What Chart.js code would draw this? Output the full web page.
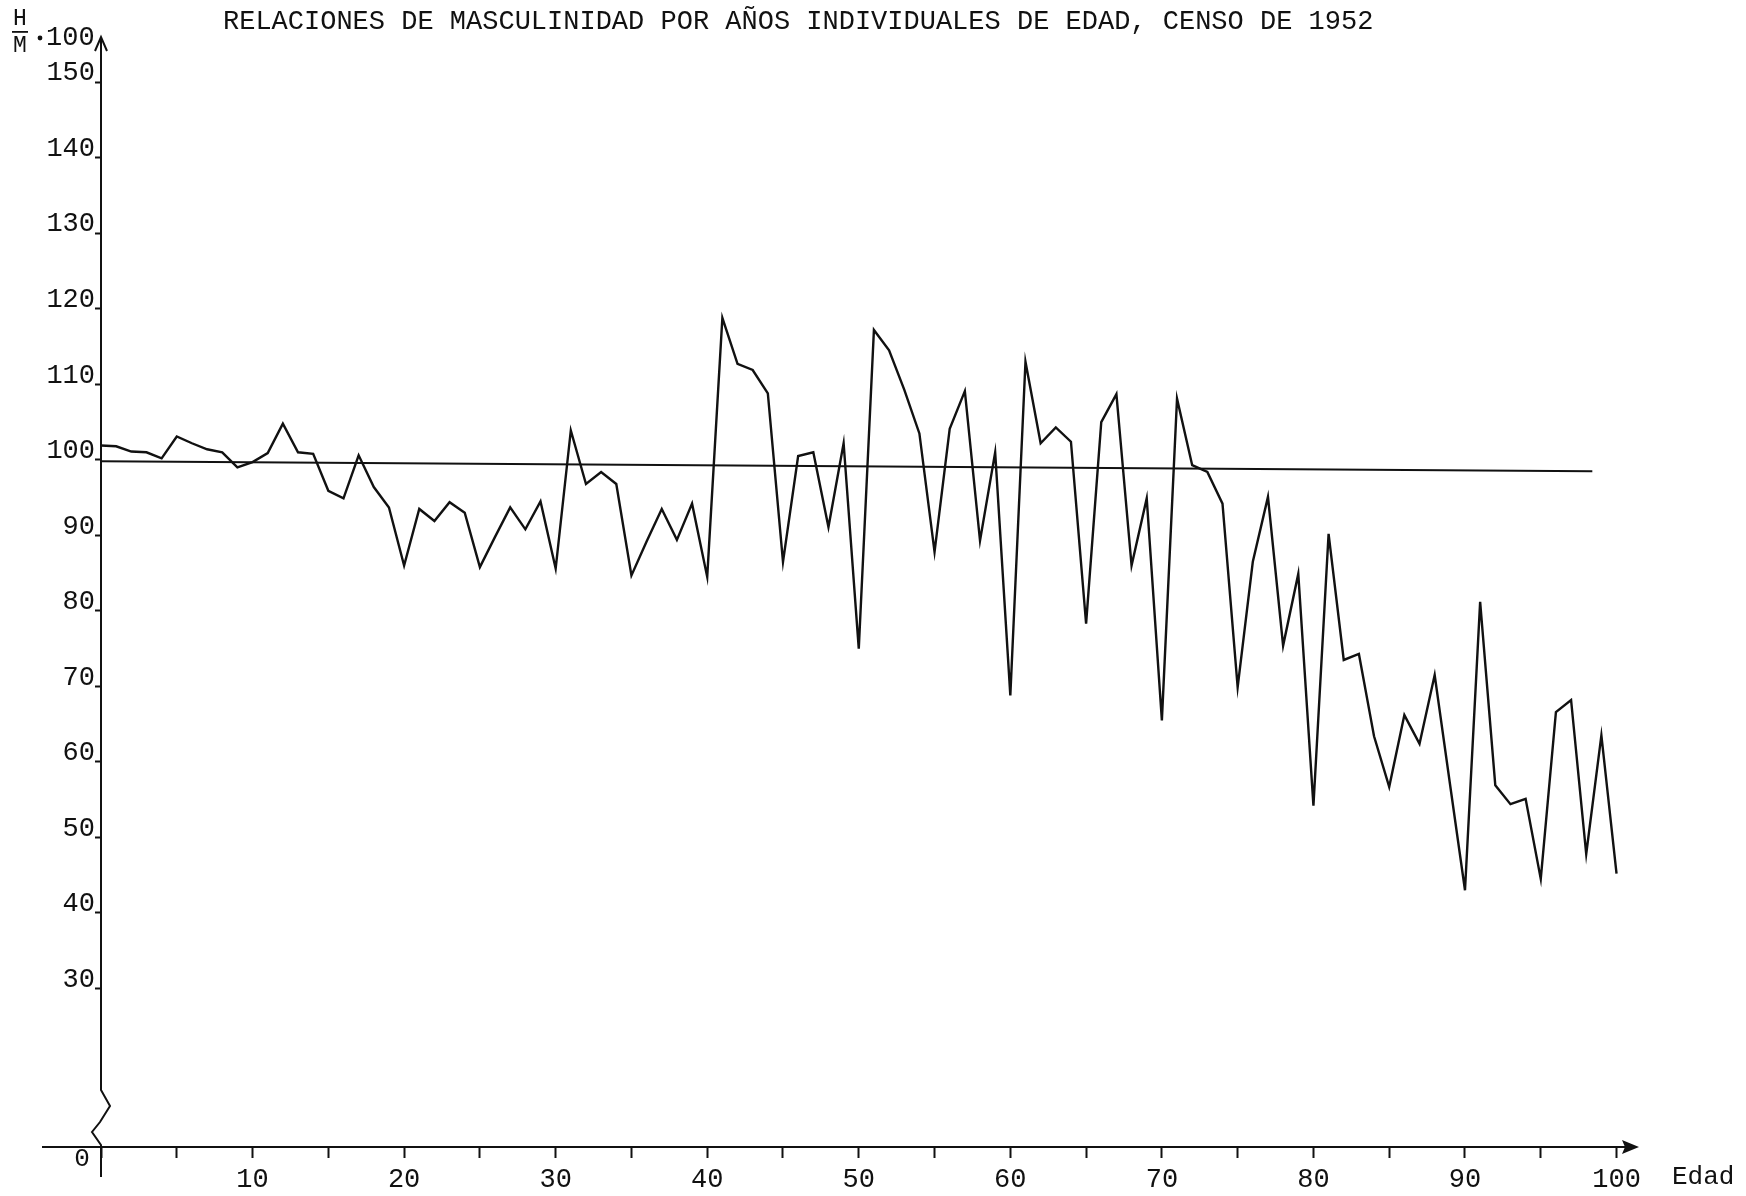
<!DOCTYPE html>
<html>
<head>
<meta charset="utf-8">
<script src="https://cdn.jsdelivr.net/npm/chart.js@4.4.1/dist/chart.umd.min.js"></script>
<style>
  body { margin: 0; background: #fff; }
  canvas { display: block; }
</style>
</head>
<body>
<canvas id="masc" width="1746" height="1196"></canvas>
<script>

var edades = [];
for (var i = 0; i <= 100; i++) edades.push(i);

// H/M * 100
var relacion = [
    101.9, 101.8, 101.1, 101.0, 100.2, 103.1, 102.2, 101.4, 101.0, 99.0,
    99.7, 100.9, 104.8, 101.0, 100.8, 95.9, 94.9, 100.6, 96.4, 93.7,
    86.0, 93.5, 91.9, 94.4, 93.0, 85.8, 89.8, 93.7, 90.8, 94.5,
    85.6, 103.9, 96.8, 98.4, 96.8, 84.7, 89.2, 93.5, 89.4, 94.2,
    84.5, 118.8, 112.7, 111.9, 108.8, 86.5, 100.5, 101.0, 91.1, 102.2,
    75.0, 117.2, 114.5, 109.3, 103.5, 87.8, 104.1, 109.1, 89.3, 101.0,
    68.8, 113.0, 102.2, 104.3, 102.4, 78.3, 105.0, 108.7, 86.0, 94.9,
    65.5, 108.1, 99.3, 98.4, 94.2, 69.9, 86.5, 95.1, 75.4, 84.9,
    54.2, 90.2, 73.5, 74.3, 63.4, 56.7, 66.2, 62.4, 71.5, 57.2,
    43.0, 81.2, 56.9, 54.4, 55.1, 44.5, 66.6, 68.2, 47.8, 63.5,
    45.2
];

// linea de referencia (100), ligeramente inclinada en el original
var refEdades = [0, 98.4];
var refValores = [99.8, 98.5];

var yTicks = [30, 40, 50, 60, 70, 80, 90, 100, 110, 120, 130, 140, 150];
var xTicks = [0, 5, 10, 15, 20, 25, 30, 35, 40, 45, 50, 55, 60, 65, 70, 75, 80, 85, 90, 95, 100];

var titulo = "RELACIONES DE MASCULINIDAD POR AÑOS INDIVIDUALES DE EDAD, CENSO DE 1952";
var mono = "'Liberation Mono', 'DejaVu Sans Mono', monospace";
var tinta = "#111";

var ejes = {
    id: "ejes",
    afterDraw: function (chart) {
        var ctx = chart.ctx;
        var xs = chart.scales.x;
        var x0 = xs.getPixelForValue(0);
        var yb = chart.chartArea.bottom;
        var yt = chart.chartArea.top;
        var xr = chart.chartArea.right;

        ctx.save();
        ctx.strokeStyle = tinta;
        ctx.fillStyle = tinta;
        ctx.lineWidth = 2;

        // eje vertical con corte
        ctx.beginPath();
        ctx.moveTo(x0, yt + 2);
        ctx.lineTo(x0, yb - 57);
        ctx.lineTo(x0 + 9, yb - 41);
        ctx.lineTo(x0 - 1, yb - 25);
        ctx.lineTo(x0 - 9, yb - 15);
        ctx.lineTo(x0, yb - 2);
        ctx.lineTo(x0, yb + 30);
        ctx.stroke();
        // flecha arriba
        ctx.beginPath();
        ctx.moveTo(x0 - 6, yt + 14);
        ctx.lineTo(x0, yt);
        ctx.lineTo(x0 + 6, yt + 14);
        ctx.stroke();

        // eje horizontal
        ctx.beginPath();
        ctx.moveTo(42, yb);
        ctx.lineTo(xr - 4, yb);
        ctx.stroke();
        ctx.beginPath();
        ctx.moveTo(xr + 2, yb);
        ctx.lineTo(xr - 15, yb - 7);
        ctx.lineTo(xr - 12, yb);
        ctx.lineTo(xr - 15, yb + 7);
        ctx.closePath();
        ctx.fill();

        // textos
        ctx.textBaseline = "middle";
        ctx.font = "27px " + mono;
        ctx.textAlign = "left";
        ctx.fillText(titulo, 223, 22);
        ctx.font = "26px " + mono;
        ctx.fillText("Edad", 1672, yb + 30);
        ctx.textAlign = "center";
        ctx.fillText("0", 82, yb + 12);

        ctx.font = "23px " + mono;
        ctx.fillText("H", 20, 19);
        ctx.fillText("M", 20, 46);
        ctx.fillRect(12, 31, 16, 1.8);
        ctx.beginPath();
        ctx.arc(40, 38, 2.4, 0, Math.PI * 2);
        ctx.fill();
        ctx.textAlign = "left";
        ctx.font = "27px " + mono;
        ctx.fillText("100", 46, 38);
        ctx.restore();
    }
};

new Chart("masc", {
    type: "line",
    data: {
        datasets: [{
            data: edades.map(function (e, i) { return { x: e, y: relacion[i] }; }),
            borderColor: tinta,
            borderWidth: 2.4,
            pointRadius: 0,
            tension: 0,
            fill: false
        }, {
            data: refEdades.map(function (e, i) { return { x: e, y: refValores[i] }; }),
            borderColor: tinta,
            borderWidth: 2,
            pointRadius: 0,
            tension: 0,
            fill: false
        }]
    },
    options: {
        responsive: false,
        animation: false,
        devicePixelRatio: 1,
        layout: { padding: { left: 0, right: 109, top: 37, bottom: 0 } },
        plugins: {
            legend: { display: false },
            title: { display: false },
            tooltip: { enabled: false }
        },
        scales: {
            x: {
                type: "linear",
                min: 0,
                max: 101.35,
                afterBuildTicks: function (s) { s.ticks = xTicks.map(function (v) { return { value: v }; }); },
                afterFit: function (s) { s.height = 49; },
                border: { display: false },
                grid: { drawOnChartArea: false, drawTicks: true, tickLength: 11, color: tinta, tickWidth: 2 },
                ticks: {
                    autoSkip: false,
                    maxRotation: 0,
                    padding: 6,
                    color: tinta,
                    font: { family: mono, size: 27 },
                    callback: function (v) { return (v % 10 === 0 && v > 0) ? String(v) : ""; }
                }
            },
            y: {
                min: 9,
                max: 156,
                afterBuildTicks: function (s) { s.ticks = yTicks.map(function (v) { return { value: v }; }); },
                afterFit: function (s) { s.width = 101; },
                border: { display: false },
                grid: { drawOnChartArea: false, drawTicks: true, tickLength: 6, color: tinta, tickWidth: 2 },
                ticks: {
                    padding: 0,
                    labelOffset: -9,
                    color: tinta,
                    font: { family: mono, size: 27 },
                    callback: function (v) { return String(v); }
                }
            }
        }
    },
    plugins: [ejes]
});
</script>
</body>
</html>
